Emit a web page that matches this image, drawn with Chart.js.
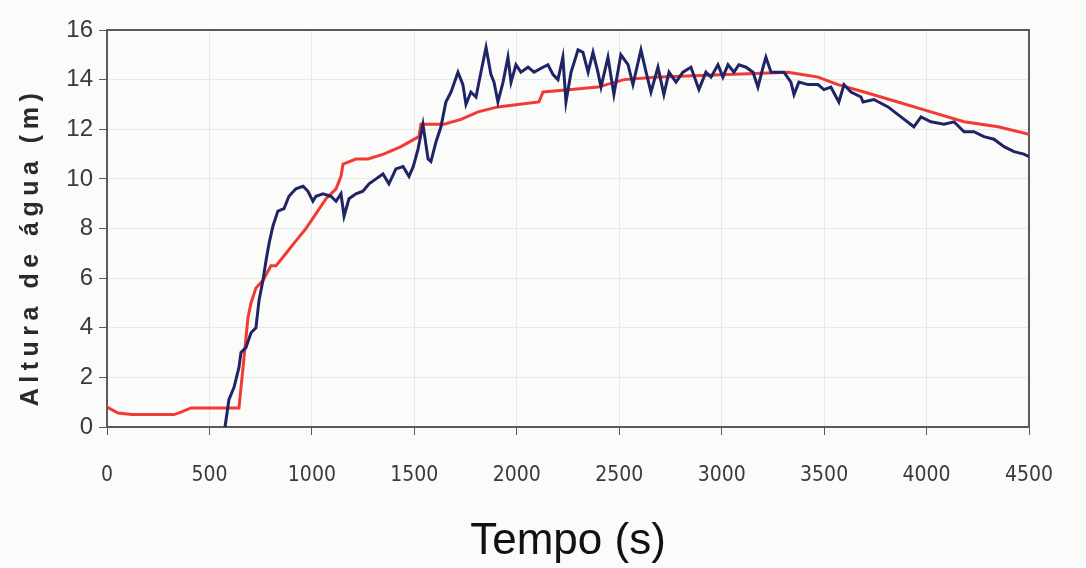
<!DOCTYPE html>
<html>
<head>
<meta charset="utf-8">
<script src="https://cdn.jsdelivr.net/npm/chart.js@4.4.1/dist/chart.umd.min.js"></script>
<style>
  html, body { margin: 0; padding: 0; background: #fbfbfa; }
  #wrap { width: 1086px; height: 568px; }
</style>
</head>
<body>
<div id="wrap"><canvas id="grafico" width="1086" height="568"></canvas></div>
<script>
// ==========================================
// DADOS
// ==========================================
const tempoMedido = [
  576, 595, 620, 644, 654, 678, 703, 727, 742, 761, 776, 791, 810, 834, 864, 888, 922, 957, 981, 1005,
  1020, 1054, 1093, 1118, 1142, 1157, 1181, 1215, 1249, 1279, 1313, 1347, 1376, 1410, 1445, 1474, 1495, 1518, 1542, 1567,
  1581, 1606, 1630, 1654, 1679, 1713, 1737, 1752, 1776, 1801, 1825, 1850, 1874, 1889, 1908, 1933, 1957, 1972, 1996, 2020,
  2055, 2084, 2128, 2152, 2177, 2201, 2225, 2240, 2265, 2299, 2323, 2348, 2372, 2396, 2411, 2445, 2474, 2508, 2543, 2567,
  2606, 2631, 2655, 2689, 2718, 2743, 2777, 2811, 2850, 2889, 2923, 2948, 2982, 3006, 3031, 3060, 3084, 3119, 3153, 3177,
  3202, 3216, 3241, 3275, 3304, 3338, 3353, 3377, 3421, 3470, 3499, 3533, 3572, 3597, 3631, 3680, 3690, 3743, 3812, 3875,
  3938, 3973, 4021, 4085, 4134, 4183, 4231, 4280, 4329, 4378, 4427, 4475, 4500
];
const alturaMedida = [
  0.0, 1.1, 1.6, 2.4, 3.0, 3.2, 3.8, 4.0, 5.1, 5.9, 6.7, 7.4, 8.1, 8.7, 8.8, 9.3, 9.6, 9.7, 9.5, 9.1,
  9.3, 9.4, 9.3, 9.1, 9.4, 8.5, 9.2, 9.4, 9.5, 9.8, 10.0, 10.2, 9.8, 10.4, 10.5, 10.1, 10.5, 11.2, 12.2, 10.8,
  10.7, 11.5, 12.1, 13.1, 13.5, 14.3, 13.8, 13.0, 13.5, 13.3, 14.3, 15.3, 14.2, 13.9, 13.1, 13.9, 14.9, 13.9, 14.6, 14.3,
  14.5, 14.3, 14.5, 14.6, 14.2, 14.0, 14.9, 13.1, 14.3, 15.2, 15.1, 14.3, 15.1, 14.3, 13.7, 14.9, 13.4, 15.0, 14.6, 13.8,
  15.2, 14.3, 13.5, 14.5, 13.4, 14.3, 13.9, 14.3, 14.5, 13.6, 14.3, 14.1, 14.6, 14.1, 14.6, 14.3, 14.6, 14.5, 14.3, 13.7,
  14.5, 14.9, 14.3, 14.3, 14.3, 13.9, 13.4, 13.9, 13.8, 13.8, 13.6, 13.7, 13.1, 13.8, 13.5, 13.3, 13.1, 13.2, 12.9, 12.5,
  12.1, 12.5, 12.3, 12.2, 12.3, 11.9, 11.9, 11.7, 11.6, 11.3, 11.1, 11.0, 10.9
];

const tempoModelo = [
  0, 54, 120, 327, 361, 410, 644, 664, 688, 703, 727, 761, 800, 825, 874, 922, 971, 1020, 1069, 1118,
  1142, 1152, 1215, 1274, 1350, 1435, 1500, 1523, 1532, 1645, 1728, 1811, 1908, 2006, 2108, 2128, 2265, 2396, 2523, 2670,
  2997, 3324, 3400, 3470, 3568, 3695, 3860, 4021, 4183, 4349, 4500
];
const alturaModelo = [
  0.8, 0.56, 0.5, 0.5, 0.6, 0.77, 0.77, 2.4, 4.4, 5.0, 5.6, 5.9, 6.5, 6.5, 7.0, 7.5, 8.0, 8.6, 9.2, 9.6,
  10.1, 10.6, 10.8, 10.8, 11.0, 11.3, 11.6, 11.7, 12.2, 12.2, 12.4, 12.7, 12.9, 13.0, 13.1, 13.5, 13.6, 13.7, 14.0, 14.1,
  14.2, 14.3, 14.2, 14.1, 13.8, 13.5, 13.1, 12.7, 12.3, 12.1, 11.8
];

const xMin = 0, xMax = 4500, xPasso = 500;
const yMin = 0, yMax = 16, yPasso = 2;

const tituloX = "Tempo (s)";
const tituloEixoY = "Altura de água (m)";

// ==========================================
// PLUGINS
// ==========================================
const fundo = {
  id: "fundo",
  beforeDraw(chart) {
    const ctx = chart.ctx;
    ctx.save();
    ctx.fillStyle = "#fbfbfa";
    ctx.fillRect(0, 0, chart.width, chart.height);
    ctx.restore();
  }
};

// moldura completa da área do gráfico
const moldura = {
  id: "moldura",
  beforeDatasetsDraw(chart) {
    const { ctx, chartArea: a } = chart;
    ctx.save();
    ctx.strokeStyle = "#5a5a5a";
    ctx.lineWidth = 2;
    ctx.strokeRect(a.left, a.top, a.right - a.left, a.bottom - a.top);
    ctx.restore();
  }
};

// título do eixo Y com espaçamento entre letras
const tituloY = {
  id: "tituloY",
  afterDraw(chart) {
    const ctx = chart.ctx;
    ctx.save();
    ctx.translate(31, 247);
    ctx.rotate(-Math.PI / 2);
    ctx.font = 'bold 25px "Liberation Sans", Arial, sans-serif';
    if ("letterSpacing" in ctx) ctx.letterSpacing = "5.5px";
    ctx.fillStyle = "#2a2a2a";
    ctx.textAlign = "center";
    ctx.textBaseline = "middle";
    ctx.fillText(tituloEixoY, 0, 0);
    ctx.restore();
  }
};

// ==========================================
// GRÁFICO
// ==========================================
const pontos = (xs, ys) => xs.map((x, i) => ({ x, y: ys[i] }));

new Chart(document.getElementById("grafico"), {
  type: "line",
  data: {
    datasets: [
      {
        label: "Medido",
        data: pontos(tempoMedido, alturaMedida),
        borderColor: "#1f2466",
        borderWidth: 3,
        pointRadius: 0,
        tension: 0
      },
      {
        label: "Modelo",
        data: pontos(tempoModelo, alturaModelo),
        borderColor: "#f23a35",
        borderWidth: 3,
        pointRadius: 0,
        tension: 0
      }
    ]
  },
  options: {
    responsive: false,
    animation: false,
    layout: { padding: { left: 0, top: 30, right: 57, bottom: 0 } },
    plugins: {
      legend: { display: false },
      tooltip: { enabled: false }
    },
    scales: {
      x: {
        type: "linear",
        min: xMin, max: xMax,
        afterFit: s => { s.height = 141; },
        ticks: {
          stepSize: xPasso,
          padding: 28,
          maxRotation: 0,
          color: "#3a3a3a",
          callback: v => String(v),
          font: { family: '"DejaVu Sans Condensed", "Liberation Sans Narrow", "Liberation Sans", sans-serif', size: 21 }
        },
        grid: { color: "#e8e8e8", tickColor: "#5a5a5a", tickLength: 8, lineWidth: 1 },
        border: { display: true, color: "#5a5a5a", width: 2 },
        title: {
          display: true,
          text: tituloX,
          color: "#111",
          padding: { top: 0, bottom: 0 },
          font: { family: '"Liberation Sans", Arial, sans-serif', size: 44 }
        }
      },
      y: {
        min: yMin, max: yMax,
        afterFit: s => { s.width = 107; },
        ticks: {
          stepSize: yPasso,
          padding: 6,
          color: "#3a3a3a",
          font: { family: '"Liberation Sans", Arial, sans-serif', size: 24 }
        },
        grid: { color: "#e8e8e8", tickColor: "#5a5a5a", tickLength: 8, lineWidth: 1 },
        border: { display: true, color: "#5a5a5a", width: 2 }
      }
    }
  },
  plugins: [fundo, moldura, tituloY]
});
</script>
</body>
</html>
